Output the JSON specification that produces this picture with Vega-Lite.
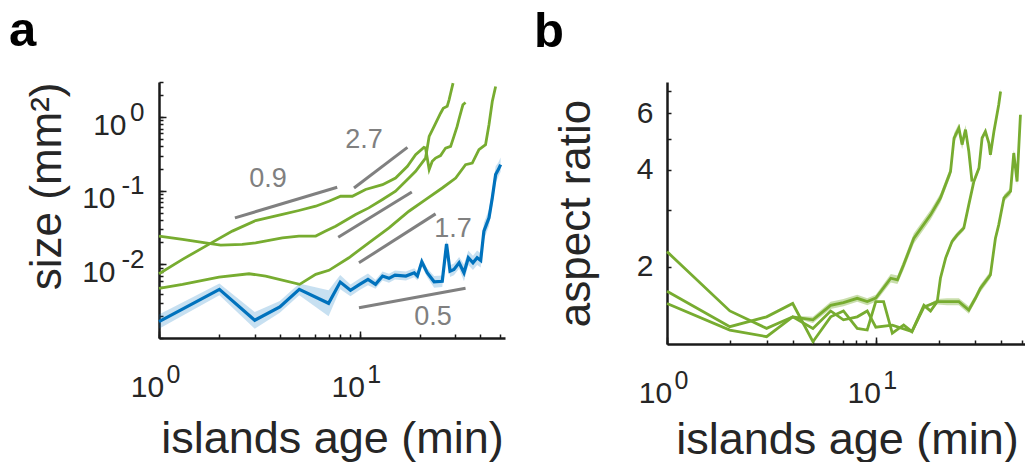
{
  "$schema": "https://vega.github.io/schema/vega-lite/v6.json",
  "padding": {"left": 9, "top": 7, "right": 0, "bottom": 0},
  "background": "white",
  "spacing": 26,
  "config": {
    "view": {"stroke": null},
    "font": "Liberation Sans",
    "axis": {"grid": false, "labelFont": "Liberation Sans", "titleFont": "Liberation Sans", "labelColor": "#262626", "titleColor": "#262626", "titleFontWeight": "normal", "domainColor": "#1a1a1a", "tickColor": "#1a1a1a", "labelOverlap": false, "labelFlush": false, "labelBound": false},
    "title": {"font": "Liberation Sans", "fontWeight": "bold", "fontSize": 49, "color": "#000000", "anchor": "start", "frame": "group", "baseline": "alphabetic"}
  },
  "datasets": {
    "a_blue": [
      {"x":1,"y":0.00167,"lo":0.00134,"hi":0.00209},{"x":2,"y":0.00458,"lo":0.00382,"hi":0.0055},{"x":3,"y":0.00174,"lo":0.00134,"hi":0.00226},{"x":4,"y":0.00264,"lo":0.0022,"hi":0.00317},{"x":5,"y":0.00458,"lo":0.00382,"hi":0.0055},{"x":7,"y":0.00296,"lo":0.00197,"hi":0.00444},{"x":8,"y":0.00575,"lo":0.0046,"hi":0.00719},{"x":9,"y":0.00444,"lo":0.0037,"hi":0.00533},{"x":10,"y":0.00536,"lo":0.00447,"hi":0.00643},{"x":11,"y":0.00626,"lo":0.00522,"hi":0.00751},{"x":12,"y":0.00536,"lo":0.00466,"hi":0.00616},{"x":13,"y":0.00694,"lo":0.00603,"hi":0.00798},{"x":14,"y":0.00646,"lo":0.00562,"hi":0.00743},{"x":15,"y":0.00716,"lo":0.00623,"hi":0.00823},{"x":17,"y":0.00694,"lo":0.00603,"hi":0.00798},{"x":18.7,"y":0.00769,"lo":0.00669,"hi":0.00884},{"x":19.4,"y":0.00694,"lo":0.00603,"hi":0.00798},{"x":20.4,"y":0.01084,"lo":0.00943,"hi":0.01247},{"x":21.7,"y":0.00769,"lo":0.00669,"hi":0.00884},{"x":23.5,"y":0.0058,"lo":0.00483,"hi":0.00696},{"x":25.8,"y":0.0059,"lo":0.00492,"hi":0.00708},{"x":27.1,"y":0.019,"lo":0.01652,"hi":0.02185},{"x":28.2,"y":0.0081,"lo":0.00675,"hi":0.00972},{"x":29.5,"y":0.00855,"lo":0.00713,"hi":0.01026},{"x":31.3,"y":0.0105,"lo":0.00875,"hi":0.0126},{"x":33.1,"y":0.0077,"lo":0.00592,"hi":0.01001},{"x":34.8,"y":0.0123,"lo":0.00984,"hi":0.01538},{"x":36.7,"y":0.0105,"lo":0.0084,"hi":0.01313},{"x":38.5,"y":0.0123,"lo":0.00984,"hi":0.01538},{"x":40.1,"y":0.0113,"lo":0.00904,"hi":0.01413},{"x":41.6,"y":0.0283,"lo":0.02177,"hi":0.03679},{"x":44.1,"y":0.0428,"lo":0.03292,"hi":0.05564},{"x":45.8,"y":0.0799,"lo":0.06146,"hi":0.10387},{"x":47.6,"y":0.166,"lo":0.12769,"hi":0.2158},{"x":49.1,"y":0.194,"lo":0.1552,"hi":0.2425},{"x":50.4,"y":0.226,"lo":0.1808,"hi":0.2825}
    ],
    "a_green": [
      {"s":"G1","x":1,"y":0.00746},{"s":"G1","x":1.31,"y":0.0117},{"s":"G1","x":1.77,"y":0.0187},{"s":"G1","x":2.32,"y":0.0283},{"s":"G1","x":3.03,"y":0.0394},{"s":"G1","x":4.12,"y":0.0476},{"s":"G1","x":4.98,"y":0.0539},{"s":"G1","x":6.04,"y":0.0617},{"s":"G1","x":7.03,"y":0.0721},{"s":"G1","x":8.04,"y":0.0842},{"s":"G1","x":9.19,"y":0.0842},{"s":"G1","x":10.7,"y":0.104},{"s":"G1","x":13.0,"y":0.121},{"s":"G1","x":15.1,"y":0.149},{"s":"G1","x":17.3,"y":0.215},{"s":"G1","x":19.0,"y":0.309},{"s":"G1","x":20.9,"y":0.388},{"s":"G1","x":21.3,"y":0.38},{"s":"G1","x":22.2,"y":0.194},{"s":"G1","x":23.0,"y":0.251},{"s":"G1","x":23.9,"y":0.278},{"s":"G1","x":25.3,"y":0.3},{"s":"G1","x":26.8,"y":0.38},{"s":"G1","x":28.4,"y":0.401},{"s":"G1","x":29.5,"y":0.548},{"s":"G1","x":30.6,"y":0.748},{"s":"G1","x":31.2,"y":0.922},{"s":"G1","x":32.2,"y":1.26},{"s":"G1","x":32.7,"y":1.47},{"s":"G1","x":33.7,"y":1.58},
      {"s":"G2","x":1,"y":0.0242},{"s":"G2","x":1.31,"y":0.0218},{"s":"G2","x":1.77,"y":0.0193},{"s":"G2","x":2.03,"y":0.0183},{"s":"G2","x":2.6,"y":0.0187},{"s":"G2","x":3.03,"y":0.0196},{"s":"G2","x":4.12,"y":0.0229},{"s":"G2","x":4.98,"y":0.0242},{"s":"G2","x":6.04,"y":0.0242},{"s":"G2","x":6.77,"y":0.0283},{"s":"G2","x":7.59,"y":0.033},{"s":"G2","x":9.55,"y":0.0476},{"s":"G2","x":11.1,"y":0.0585},{"s":"G2","x":13.0,"y":0.076},{"s":"G2","x":15.1,"y":0.0985},{"s":"G2","x":17.6,"y":0.149},{"s":"G2","x":19.0,"y":0.184},{"s":"G2","x":21.3,"y":0.278},{"s":"G2","x":22.2,"y":0.548},{"s":"G2","x":23.5,"y":0.748},{"s":"G2","x":25.3,"y":1.13},{"s":"G2","x":26.1,"y":1.32},{"s":"G2","x":27.3,"y":1.4},{"s":"G2","x":27.9,"y":1.72},{"s":"G2","x":28.4,"y":2.11},{"s":"G2","x":29.2,"y":2.89},
      {"s":"G3","x":1,"y":0.00473},{"s":"G3","x":1.31,"y":0.00536},{"s":"G3","x":1.99,"y":0.00673},{"s":"G3","x":2.81,"y":0.00746},{"s":"G3","x":3.4,"y":0.00694},{"s":"G3","x":5.02,"y":0.00536},{"s":"G3","x":6.04,"y":0.00732},{"s":"G3","x":7.03,"y":0.0083},{"s":"G3","x":8.84,"y":0.0123},{"s":"G3","x":11.1,"y":0.0196},{"s":"G3","x":14.0,"y":0.0313},{"s":"G3","x":17.6,"y":0.0527},{"s":"G3","x":21.3,"y":0.076},{"s":"G3","x":25.8,"y":0.109},{"s":"G3","x":30.1,"y":0.149},{"s":"G3","x":33.7,"y":0.226},{"s":"G3","x":36.4,"y":0.238},{"s":"G3","x":39.3,"y":0.362},{"s":"G3","x":42.4,"y":0.423},{"s":"G3","x":44.1,"y":0.789},{"s":"G3","x":45.8,"y":1.63},{"s":"G3","x":47.6,"y":2.61}
    ],
    "a_seg": [
      {"x":2.39,"y":0.0428,"x2":7.73,"y2":0.1115},
      {"x":9.37,"y":0.109,"x2":17.3,"y2":0.388},
      {"x":7.82,"y":0.0234,"x2":18.2,"y2":0.0963},
      {"x":9.92,"y":0.0105,"x2":23.9,"y2":0.0485},
      {"x":9.92,"y":0.00258,"x2":33.7,"y2":0.00473}
    ],
    "a_lab": [
      {"x":3.49,"y":0.1455,"t":"0.9"},
      {"x":10.5,"y":0.494,"t":"2.7"},
      {"x":29.2,"y":0.0306,"t":"1.7"},
      {"x":23.2,"y":0.00194,"t":"0.5"}
    ],
    "b_lines": [
      {"s":"B1","x":1,"y":2.23,"lo":2.23,"hi":2.23},{"s":"B1","x":2,"y":1.46,"lo":1.46,"hi":1.46},{"s":"B1","x":3,"y":1.289,"lo":1.289,"hi":1.289},{"s":"B1","x":4,"y":1.4,"lo":1.39,"hi":1.41},{"s":"B1","x":5,"y":1.37,"lo":1.34,"hi":1.4},{"s":"B1","x":6.08,"y":1.52,"lo":1.48,"hi":1.56},{"s":"B1","x":7,"y":1.55,"lo":1.51,"hi":1.59},{"s":"B1","x":8.15,"y":1.598,"lo":1.56,"hi":1.64},{"s":"B1","x":9.1,"y":1.561,"lo":1.52,"hi":1.6},{"s":"B1","x":10,"y":1.6,"lo":1.56,"hi":1.64},{"s":"B1","x":11.8,"y":1.844,"lo":1.79,"hi":1.9},{"s":"B1","x":12.7,"y":1.823,"lo":1.77,"hi":1.88},{"s":"B1","x":13.6,"y":2.03,"lo":1.96,"hi":2.1},{"s":"B1","x":15.2,"y":2.45,"lo":2.36,"hi":2.54},{"s":"B1","x":18.3,"y":2.9,"lo":2.8,"hi":3.0},{"s":"B1","x":20.4,"y":3.27,"lo":3.16,"hi":3.38},{"s":"B1","x":22.8,"y":3.95,"lo":3.82,"hi":4.08},{"s":"B1","x":23.7,"y":5.02,"lo":4.85,"hi":5.19},{"s":"B1","x":25.0,"y":5.39,"lo":5.21,"hi":5.57},{"s":"B1","x":25.9,"y":4.79,"lo":4.63,"hi":4.95},{"s":"B1","x":26.9,"y":5.33,"lo":5.15,"hi":5.51},{"s":"B1","x":27.9,"y":4.56,"lo":4.41,"hi":4.71},{"s":"B1","x":28.9,"y":3.68,"lo":3.56,"hi":3.8},
      {"s":"B2","x":1,"y":1.68,"lo":1.68,"hi":1.68},{"s":"B2","x":2,"y":1.305,"lo":1.305,"hi":1.305},{"s":"B2","x":3,"y":1.4,"lo":1.4,"hi":1.4},{"s":"B2","x":4,"y":1.54,"lo":1.54,"hi":1.54},{"s":"B2","x":5,"y":1.172,"lo":1.172,"hi":1.172},{"s":"B2","x":6.08,"y":1.4,"lo":1.4,"hi":1.4},{"s":"B2","x":7,"y":1.46,"lo":1.46,"hi":1.46},{"s":"B2","x":8.15,"y":1.289,"lo":1.289,"hi":1.289},{"s":"B2","x":9.1,"y":1.274,"lo":1.274,"hi":1.274},{"s":"B2","x":10,"y":1.561,"lo":1.561,"hi":1.561},{"s":"B2","x":10.9,"y":1.561,"lo":1.561,"hi":1.561},{"s":"B2","x":12,"y":1.245,"lo":1.245,"hi":1.245},{"s":"B2","x":13.6,"y":1.321,"lo":1.321,"hi":1.321},{"s":"B2","x":14.9,"y":1.259,"lo":1.259,"hi":1.259},{"s":"B2","x":17,"y":1.52,"lo":1.5,"hi":1.54},{"s":"B2","x":18.3,"y":1.46,"lo":1.44,"hi":1.48},{"s":"B2","x":19.7,"y":1.561,"lo":1.54,"hi":1.58},{"s":"B2","x":20.4,"y":1.844,"lo":1.81,"hi":1.88},{"s":"B2","x":21.6,"y":2.13,"lo":2.09,"hi":2.17},{"s":"B2","x":23.2,"y":2.4,"lo":2.35,"hi":2.45},{"s":"B2","x":24.5,"y":2.51,"lo":2.46,"hi":2.56},{"s":"B2","x":26.4,"y":2.64,"lo":2.59,"hi":2.69},{"s":"B2","x":27.9,"y":3.12,"lo":3.06,"hi":3.18},{"s":"B2","x":29.5,"y":3.68,"lo":3.61,"hi":3.75},{"s":"B2","x":31.2,"y":4.05,"lo":3.97,"hi":4.13},{"s":"B2","x":32.3,"y":5.02,"lo":4.92,"hi":5.12},{"s":"B2","x":33.5,"y":5.26,"lo":5.16,"hi":5.37},{"s":"B2","x":34.8,"y":4.84,"lo":4.74,"hi":4.94},{"s":"B2","x":35.4,"y":4.45,"lo":4.36,"hi":4.54},{"s":"B2","x":36.8,"y":5.26,"lo":5.16,"hi":5.37},{"s":"B2","x":38.8,"y":6.37,"lo":6.24,"hi":6.5},{"s":"B2","x":39.6,"y":7.0,"lo":6.86,"hi":7.14},
      {"s":"B3","x":1,"y":1.54,"lo":1.54,"hi":1.54},{"s":"B3","x":2,"y":1.274,"lo":1.274,"hi":1.274},{"s":"B3","x":3,"y":1.215,"lo":1.215,"hi":1.215},{"s":"B3","x":4,"y":1.4,"lo":1.4,"hi":1.4},{"s":"B3","x":5,"y":1.289,"lo":1.289,"hi":1.289},{"s":"B3","x":6.08,"y":1.46,"lo":1.46,"hi":1.46},{"s":"B3","x":7,"y":1.37,"lo":1.37,"hi":1.37},{"s":"B3","x":8.15,"y":1.4,"lo":1.4,"hi":1.4},{"s":"B3","x":9.1,"y":1.46,"lo":1.46,"hi":1.46},{"s":"B3","x":10,"y":1.3,"lo":1.3,"hi":1.3},{"s":"B3","x":12,"y":1.32,"lo":1.32,"hi":1.32},{"s":"B3","x":14.9,"y":1.26,"lo":1.26,"hi":1.26},{"s":"B3","x":17,"y":1.5,"lo":1.5,"hi":1.5},{"s":"B3","x":19.7,"y":1.561,"lo":1.53,"hi":1.59},{"s":"B3","x":22.0,"y":1.561,"lo":1.52,"hi":1.6},{"s":"B3","x":25.0,"y":1.561,"lo":1.52,"hi":1.6},{"s":"B3","x":27.9,"y":1.47,"lo":1.43,"hi":1.51},{"s":"B3","x":30.0,"y":1.598,"lo":1.56,"hi":1.64},{"s":"B3","x":31.7,"y":1.716,"lo":1.67,"hi":1.76},{"s":"B3","x":35.4,"y":1.888,"lo":1.84,"hi":1.94},{"s":"B3","x":37.4,"y":2.45,"lo":2.39,"hi":2.51},{"s":"B3","x":38.8,"y":2.7,"lo":2.63,"hi":2.77},{"s":"B3","x":41.1,"y":3.27,"lo":3.19,"hi":3.35},{"s":"B3","x":44.2,"y":3.43,"lo":3.34,"hi":3.52},{"s":"B3","x":45.8,"y":4.51,"lo":4.4,"hi":4.62},{"s":"B3","x":47.5,"y":3.68,"lo":3.59,"hi":3.77},{"s":"B3","x":49.3,"y":5.93,"lo":5.78,"hi":6.08}
    ]
  },
  "hconcat": [
    {
      "width": 346,
      "height": 256,
      "title": {"text": "a", "dx": -150, "offset": 19},
      "resolve": {"axis": {"x": "independent", "y": "independent"}},
      "layer": [
        {
          "data": {"name": "a_blue"},
          "mark": {"type": "area", "color": "#0072BD", "opacity": 0.22},
          "encoding": {
            "x": {"field": "x", "type": "quantitative", "scale": {"type": "log", "domain": [1, 53], "nice": false}, "axis": null},
            "y": {"field": "lo", "type": "quantitative", "scale": {"type": "log", "domain": [0.001, 3], "nice": false}, "axis": null},
            "y2": {"field": "hi"}
          }
        },
        {
          "data": {"name": "a_green"},
          "mark": {"type": "line", "color": "#77AC30", "strokeWidth": 2.8},
          "encoding": {
            "x": {"field": "x", "type": "quantitative", "scale": {"type": "log", "domain": [1, 53], "nice": false},
              "axis": {"orient": "bottom", "values": [1,2,3,4,5,6,7,8,9,10,20,30,40,50], "labelExpr": "datum.value == 1 || datum.value == 10 ? '10' : ''", "tickSize": -4, "tickWidth": 1.5, "domainWidth": 2.5, "labelFontSize": 30, "labelPadding": 38, "labelOffset": -12, "title": "islands age (min)", "titleFontSize": 45, "titlePadding": 14}},
            "y": {"field": "y", "type": "quantitative", "scale": {"type": "log", "domain": [0.001, 3], "nice": false},
              "axis": {"orient": "left", "values": [0.001,0.002,0.003,0.004,0.005,0.006,0.007,0.008,0.009,0.01,0.02,0.03,0.04,0.05,0.06,0.07,0.08,0.09,0.1,0.2,0.3,0.4,0.5,0.6,0.7,0.8,0.9,1,2,3], "labelExpr": "datum.value == 1 || datum.value == 0.1 || datum.value == 0.01 ? '10' : ''", "tickSize": -4, "tickWidth": 1.5, "domainWidth": 2.5, "labelFontSize": 30, "labelAlign": "right", "labelBaseline": "middle", "labelPadding": {"condition": {"test": "datum.value == 1", "value": 37}, "value": 48}, "labelOffset": 8, "title": "size (mm²)", "titleFontSize": 44, "titlePadding": 12, "titleAnchor": "end"}},
            "detail": {"field": "s"}
          }
        },
        {
          "data": {"name": "a_blue"},
          "mark": {"type": "line", "color": "#0072BD", "strokeWidth": 3.2},
          "encoding": {
            "x": {"field": "x", "type": "quantitative", "scale": {"type": "log", "domain": [1, 53], "nice": false},
              "axis": {"orient": "bottom", "values": [1, 10], "labelExpr": "datum.value == 1 ? '0' : '1'", "domain": false, "tickSize": -7, "tickWidth": 1.5, "labelFontSize": 25, "labelPadding": 31, "labelOffset": 14, "title": null}},
            "y": {"field": "y", "type": "quantitative", "scale": {"type": "log", "domain": [0.001, 3], "nice": false},
              "axis": {"orient": "left", "values": [0.01, 0.1, 1], "labelExpr": "datum.value == 1 ? '0' : datum.value == 0.1 ? '-1' : '-2'", "domain": false, "tickSize": -7, "tickWidth": 1.5, "labelFontSize": 26, "labelAlign": "right", "labelBaseline": "middle", "labelPadding": 22, "labelOffset": -5, "title": null}}
          }
        },
        {
          "data": {"name": "a_seg"},
          "mark": {"type": "rule", "color": "#808080", "strokeWidth": 3},
          "encoding": {
            "x": {"field": "x", "type": "quantitative", "scale": {"type": "log", "domain": [1, 53], "nice": false}, "axis": null},
            "y": {"field": "y", "type": "quantitative", "scale": {"type": "log", "domain": [0.001, 3], "nice": false}, "axis": null},
            "x2": {"field": "x2"},
            "y2": {"field": "y2"}
          }
        },
        {
          "data": {"name": "a_lab"},
          "mark": {"type": "text", "color": "#808080", "fontSize": 27, "font": "Liberation Sans", "align": "center", "baseline": "middle"},
          "encoding": {
            "x": {"field": "x", "type": "quantitative", "scale": {"type": "log", "domain": [1, 53], "nice": false}, "axis": null},
            "y": {"field": "y", "type": "quantitative", "scale": {"type": "log", "domain": [0.001, 3], "nice": false}, "axis": null},
            "text": {"field": "t"}
          }
        }
      ]
    },
    {
      "width": 360,
      "height": 262,
      "title": {"text": "b", "dx": -133, "offset": 19},
      "resolve": {"axis": {"x": "independent", "y": "independent"}},
      "layer": [
        {
          "data": {"name": "b_lines"},
          "mark": {"type": "area", "color": "#77AC30", "opacity": 0.4},
          "encoding": {
            "x": {"field": "x", "type": "quantitative", "scale": {"type": "log", "domain": [1, 53], "nice": false},
              "axis": {"orient": "bottom", "values": [1, 10], "labelExpr": "datum.value == 1 ? '0' : '1'", "domain": false, "tickSize": -7, "tickWidth": 1.5, "labelFontSize": 25, "labelPadding": 31, "labelOffset": 14, "title": null}},
            "y": {"field": "lo", "type": "quantitative", "scale": {"type": "log", "domain": [1.153, 7.49], "nice": false}, "axis": null},
            "y2": {"field": "hi"},
            "detail": {"field": "s"}
          }
        },
        {
          "data": {"name": "b_lines"},
          "mark": {"type": "line", "color": "#77AC30", "strokeWidth": 2.8},
          "encoding": {
            "x": {"field": "x", "type": "quantitative", "scale": {"type": "log", "domain": [1, 53], "nice": false},
              "axis": {"orient": "bottom", "values": [1,2,3,4,5,6,7,8,9,10,20,30,40,50], "labelExpr": "datum.value == 1 || datum.value == 10 ? '10' : ''", "tickSize": -4, "tickWidth": 1.5, "domainWidth": 2.5, "labelFontSize": 30, "labelPadding": 38, "labelOffset": -12, "title": "islands age (min)", "titleFontSize": 45, "titlePadding": 9}},
            "y": {"field": "y", "type": "quantitative", "scale": {"type": "log", "domain": [1.153, 7.49], "nice": false},
              "axis": {"orient": "left", "values": [2, 3, 4, 5, 6, 7], "labelExpr": "datum.value == 2 || datum.value == 4 || datum.value == 6 ? datum.label : ''", "tickSize": -4, "tickWidth": 1.5, "domainWidth": 2.5, "labelFontSize": 30, "labelPadding": 18, "title": "aspect ratio", "titleFontSize": 44, "titlePadding": 38}},
            "detail": {"field": "s"}
          }
        }
      ]
    }
  ]
}
